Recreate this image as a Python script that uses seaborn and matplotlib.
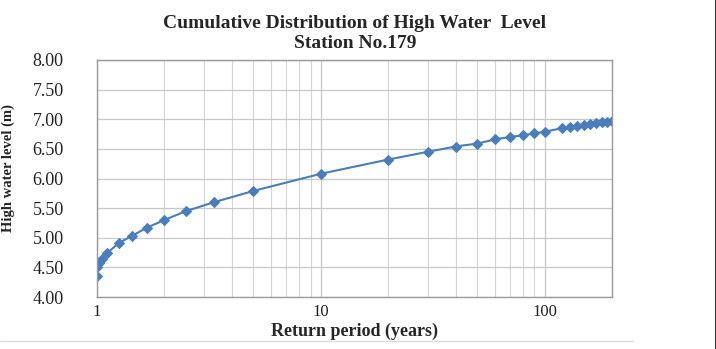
import numpy as np
import pandas as pd
import matplotlib
matplotlib.use("Agg")
import matplotlib.pyplot as plt
from matplotlib.lines import Line2D
from matplotlib.ticker import LogLocator, FixedLocator, NullFormatter
import seaborn as sns

# Return periods (years) and estimated high water levels (m)
return_period = [1.001, 1.005, 1.02, 1.05, 1.11, 1.25, 1.43, 1.67, 2.0, 2.5, 3.33, 5.0, 10.0,
                 20.0, 30.0, 40.0, 50.0, 60.0, 70.0, 80.0, 90.0, 100.0,
                 120.0, 130.0, 140.0, 150.0, 160.0, 170.0, 180.0, 190.0, 200.0]
water_level = [4.35, 4.50, 4.57, 4.64, 4.74, 4.91, 5.03, 5.17, 5.30, 5.45, 5.60, 5.79, 6.08,
               6.32, 6.45, 6.54, 6.59, 6.66, 6.70, 6.73, 6.76, 6.79,
               6.85, 6.87, 6.89, 6.91, 6.92, 6.94, 6.95, 6.96, 6.97]
y_ticks = [4.00, 4.50, 5.00, 5.50, 6.00, 6.50, 7.00, 7.50, 8.00]
x_ticks = [1, 10, 100]

df = pd.DataFrame({"Return period": return_period, "Level": water_level})

sns.set_theme(style="white")
plt.rcParams["font.family"] = ["Liberation Serif", "DejaVu Serif"]

fig = plt.figure(figsize=(7.16, 3.49), dpi=100)
ax = fig.add_axes([97 / 716, 1 - 297 / 349, (612 - 97) / 716, (297 - 60) / 349])

sns.lineplot(data=df, x="Return period", y="Level", ax=ax, color="#4a7ebb",
             linewidth=1.5, marker="D", markersize=5, markeredgecolor="#4a7ebb",
             sort=False)

ax.set_xscale("log")
ax.set_xlim(1, 200)
ax.set_ylim(4.0, 8.0)
ax.xaxis.set_major_locator(FixedLocator(x_ticks))
ax.set_xticklabels([str(t) for t in x_ticks])
ax.xaxis.set_minor_locator(LogLocator(base=10, subs=np.arange(2, 10)))
ax.xaxis.set_minor_formatter(NullFormatter())
ax.set_yticks(y_ticks)
ax.set_yticklabels([f"{v:.2f}" for v in y_ticks])

ax.grid(True, which="major", color="#c8c8c8", linewidth=0.9)
ax.grid(True, which="minor", axis="x", color="#d4d4d4", linewidth=0.8)
for s in ax.spines.values():
    s.set_color("#9a9a9a")
    s.set_linewidth(1.0)

ax.tick_params(axis="both", which="major", direction="out", width=0.9,
               color="#9a9a9a", labelcolor="#222222")
ax.tick_params(axis="y", which="major", length=6, pad=18, labelsize=13)
ax.tick_params(axis="x", which="major", length=5, pad=0, labelsize=12)
ax.tick_params(axis="x", which="minor", length=0)

ax.set_xlabel("Return period (years)", fontsize=13, fontweight="bold", va="center")
ax.xaxis.set_label_coords(0.5, (297 - 331) / 237)
ax.set_ylabel("")

fig.text(355 / 716, 1 - 24 / 349, "Cumulative Distribution of High Water  Level",
         ha="center", va="center", fontsize=14, fontweight="bold")
fig.text(355 / 716, 1 - 43 / 349, "Station No.179",
         ha="center", va="center", fontsize=14, fontweight="bold")
fig.text(8 / 716, 1 - 168 / 349, "High water level (m)", rotation=90,
         ha="center", va="center", fontsize=10.5, fontweight="bold")

# light rule under the chart area and dark edge on the right
fig.lines.append(Line2D([0, 633 / 716], [1 - 341 / 349] * 2, transform=fig.transFigure,
                        color="#dcdcdc", linewidth=1.0))
fig.lines.append(Line2D([715.5 / 716] * 2, [0, 1], transform=fig.transFigure,
                        color="#111111", linewidth=1.2))

fig.savefig("out.png", dpi=100)
